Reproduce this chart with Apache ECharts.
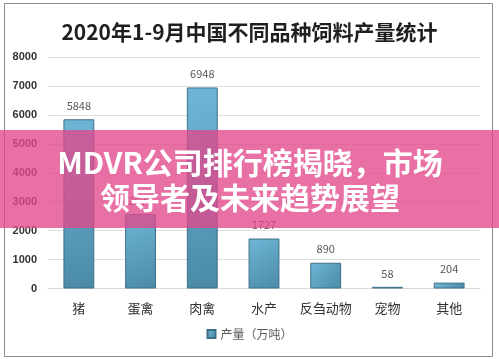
<!DOCTYPE html>
<html>
<head>
<meta charset="utf-8">
<script src="https://cdn.jsdelivr.net/npm/echarts@6/dist/echarts.min.js"></script>
<style>
html,body{margin:0;padding:0;background:#fff;}
#c{width:499px;height:359px;}
</style>
</head>
<body>
<div id="c"></div>
<script>
var titleText = '2020年1-9月中国不同品种饲料产量统计';
var categories = ['猪', '蛋禽', '肉禽', '水产', '反刍动物', '宠物', '其他'];
var seriesName = '产量（万吨）';
var values = [5848, 2578, 6948, 1727, 890, 58, 204];
var yTicks = [0, 1000, 2000, 3000, 4000, 5000, 6000, 7000, 8000];
var bannerLines = ['MDVR公司排行榜揭晓，市场', '领导者及未来趋势展望'];

var chart = echarts.init(document.getElementById('c'));
var font = '"Noto Sans CJK SC", "Noto Sans", sans-serif';
chart.setOption({
  animation: false,
  backgroundColor: '#fff',
  title: {
    text: titleText,
    left: 'center',
    top: 17,
    textStyle: {fontSize: 21, fontWeight: 'bold', color: '#1f1f1f', fontFamily: font}
  },
  legend: {
    data: [seriesName],
    bottom: 14,
    left: 'center',
    icon: 'rect',
    itemWidth: 8,
    itemHeight: 8,
    itemGap: 4,
    textStyle: {fontSize: 12, color: '#595959', fontFamily: font}
  },
  grid: {left: 48, right: 19, top: 57, bottom: 70.5, containLabel: false},
  xAxis: {
    type: 'category',
    data: categories,
    axisTick: {show: false},
    axisLine: {lineStyle: {color: '#d9d9d9'}},
    axisLabel: {interval: 0, fontSize: 13, color: '#333', margin: 13, fontFamily: font}
  },
  yAxis: {
    type: 'value',
    min: yTicks[0],
    max: yTicks[yTicks.length - 1],
    interval: 1000,
    axisLine: {show: false},
    axisTick: {show: false},
    splitLine: {lineStyle: {color: '#dedede'}},
    axisLabel: {
      formatter: function (v) { return String(v); },
      fontSize: 11, color: '#333', fontWeight: 'bold', margin: 11,
      fontFamily: 'Arial, "Liberation Sans", sans-serif'
    }
  },
  series: [{
    name: seriesName,
    type: 'bar',
    data: values,
    barCategoryGap: '50%',
    itemStyle: {
      color: new echarts.graphic.LinearGradient(0, 0, 1, 1, [
        {offset: 0, color: '#6fb6d6'},
        {offset: 1, color: '#4a8aa7'}
      ]),
      borderColor: '#3f6f86',
      borderWidth: 1
    },
    label: {
      show: true,
      position: 'top',
      distance: 8,
      fontSize: 11,
      color: '#595959',
      fontFamily: font
    }
  }],
  graphic: [
    {
      type: 'rect',
      z: 50,
      shape: {x: 4.5, y: 3.5, width: 488, height: 353},
      style: {fill: 'none', stroke: '#8c8c8c', lineWidth: 1}
    },
    {
      type: 'rect',
      z: 100,
      shape: {x: 0, y: 130, width: 499, height: 98},
      style: {fill: 'rgba(226, 72, 140, 0.78)'}
    },
    {
      type: 'text',
      z: 101,
      x: 250,
      y: 180,
      style: {
        text: bannerLines.join('\n'),
        font: 'bold 30px "Noto Sans CJK SC", sans-serif',
        fill: '#fff',
        textAlign: 'center',
        textVerticalAlign: 'middle',
        lineHeight: 35,
        shadowBlur: 3,
        shadowColor: 'rgba(0,0,0,0.25)'
      }
    }
  ]
});
</script>
</body>
</html>
